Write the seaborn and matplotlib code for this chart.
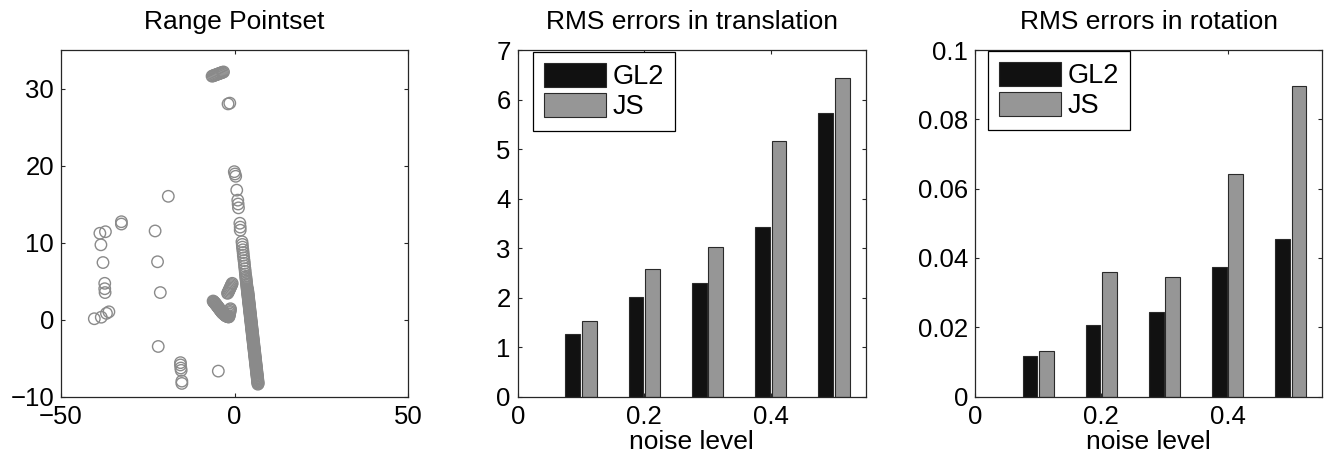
import numpy as np
import pandas as pd
import matplotlib
matplotlib.use("Agg")
import matplotlib.pyplot as plt
import seaborn as sns

# ---------------- data ----------------
# Range pointset (left panel)
pts_x = [
    # top cluster
    -6.5, -6.2, -5.9, -5.6, -5.3, -5.0, -4.7, -4.4, -4.1, -3.8, -3.5, -3.2,
    -1.9, -1.4,
    # upper column
    -0.1, 0.1, 0.3, 0.6, 0.9, 1.0, 1.1, 1.5, 1.6, 1.6,
    2.1, 2.2, 2.25, 2.35, 2.45, 2.5, 2.6, 2.7, 2.8, 2.85, 2.95, 3.05, 3.1,
    # dense column
    3.2, 3.25, 3.3, 3.35, 3.4, 3.45, 3.5, 3.55, 3.6, 3.65, 3.7, 3.75, 3.8, 3.85,
    3.9, 3.95, 4.0, 4.05, 4.1, 4.15, 4.2, 4.25, 4.3, 4.35, 4.4, 4.45, 4.5, 4.55,
    4.6, 4.65, 4.7, 4.75, 4.8, 4.85, 4.9, 4.95, 5.0, 5.05, 5.1, 5.15, 5.2, 5.25,
    5.3, 5.35, 5.4, 5.45, 5.5, 5.55, 5.6, 5.65, 5.7, 5.75, 5.8, 5.85, 5.9, 5.95,
    6.0, 6.05, 6.1, 6.15, 6.2, 6.25, 6.3, 6.35, 6.4, 6.45, 6.5, 6.55, 6.6, 6.65, 6.7,
    3.73, 3.78, 3.83, 3.88, 3.93, 3.98, 4.03, 4.08, 4.13, 4.18, 4.23, 4.28, 4.33,
    4.38, 4.43, 4.48, 4.53, 4.58, 4.63, 4.68, 4.73, 4.78, 4.83, 4.88, 4.93, 4.98,
    5.03, 5.08, 5.13, 5.18, 5.23, 5.28, 5.33, 5.38, 5.43, 5.48, 5.53, 5.58, 5.63,
    5.68, 5.73, 5.78, 5.83, 5.88, 5.93, 5.98, 6.03, 6.08, 6.13, 6.18, 6.23, 6.28,
    6.33, 6.38, 6.43, 6.48, 6.53, 6.58, 6.63, 6.68, 6.73, 6.78,
    # blob near (-1.5, 4)
    -0.7, -0.85, -1.0, -1.15, -1.3, -1.45, -1.6, -1.75, -1.9, -2.05,
    # L-shaped cluster
    -6.2, -5.9, -5.6, -5.35, -5.1, -4.85, -4.6, -4.35, -4.1, -3.85, -3.6, -3.35,
    -3.1, -2.85, -2.6, -2.35, -2.1, -1.85, -1.65,
    -6.05, -5.75, -5.5, -5.2, -4.95, -4.7, -4.45, -4.2, -3.95, -3.7, -3.45, -3.2,
    -2.95, -2.7, -2.45, -2.2, -1.95, -1.75,
    -1.55, -1.45, -1.4, -1.3, -1.25, -1.2,
    # isolated points, left side
    -19.1, -32.6, -32.6, -38.8, -37.2, -38.5, -37.9, -37.4, -37.4, -37.3,
    -40.4, -38.4, -36.9, -36.2,
    -22.9, -22.2, -21.4, -22.0,
    -15.6, -15.6, -15.5, -15.4, -15.2, -15.2,
    -4.7,
]
pts_y = [
    31.6, 31.65, 31.7, 31.75, 31.8, 31.85, 31.9, 31.95, 32.0, 32.05, 32.1, 32.15,
    28.0, 28.1,
    19.2, 18.9, 18.6, 16.8, 15.5, 15.0, 14.5, 12.5, 12.0, 11.6,
    10.1, 9.75, 9.4, 9.05, 8.7, 8.35, 8.0, 7.65, 7.3, 6.95, 6.6, 6.25, 5.9,
    5.6, 5.4, 5.2, 5.0, 4.8, 4.6, 4.4, 4.2, 4.0, 3.8, 3.6, 3.4, 3.2, 3.0,
    2.8, 2.6, 2.4, 2.2, 2.0, 1.8, 1.6, 1.4, 1.2, 1.0, 0.8, 0.6, 0.4, 0.2,
    0.0, -0.2, -0.4, -0.6, -0.8, -1.0, -1.2, -1.4, -1.6, -1.8, -2.0, -2.2, -2.4, -2.6,
    -2.8, -3.0, -3.2, -3.4, -3.6, -3.8, -4.0, -4.2, -4.4, -4.6, -4.8, -5.0, -5.2, -5.4,
    -5.6, -5.8, -6.0, -6.2, -6.4, -6.6, -6.8, -7.0, -7.2, -7.4, -7.6, -7.8, -8.0, -8.2, -8.4,
    3.9, 3.7, 3.5, 3.3, 3.1, 2.9, 2.7, 2.5, 2.3, 2.1, 1.9, 1.7, 1.5,
    1.3, 1.1, 0.9, 0.7, 0.5, 0.3, 0.1, -0.1, -0.3, -0.5, -0.7, -0.9, -1.1,
    -1.3, -1.5, -1.7, -1.9, -2.1, -2.3, -2.5, -2.7, -2.9, -3.1, -3.3, -3.5, -3.7,
    -3.9, -4.1, -4.3, -4.5, -4.7, -4.9, -5.1, -5.3, -5.5, -5.7, -5.9, -6.1, -6.3,
    -6.5, -6.7, -6.9, -7.1, -7.3, -7.5, -7.7, -7.9, -8.1, -8.3,
    4.7, 4.55, 4.4, 4.25, 4.1, 3.95, 3.8, 3.65, 3.5, 3.4,
    2.4, 2.25, 2.1, 1.95, 1.8, 1.65, 1.5, 1.35, 1.2, 1.05, 0.9, 0.8,
    0.7, 0.6, 0.5, 0.45, 0.4, 0.35, 0.35,
    2.32, 2.17, 2.02, 1.87, 1.72, 1.57, 1.42, 1.27, 1.12, 0.97, 0.85, 0.75,
    0.65, 0.55, 0.47, 0.42, 0.37, 0.35,
    0.5, 0.7, 0.9, 1.05, 1.25, 1.4,
    16.0, 12.7, 12.4, 11.2, 11.4, 9.7, 7.4, 4.7, 4.0, 3.5,
    0.1, 0.3, 0.8, 1.0,
    11.5, 7.5, 3.5, -3.5,
    -5.6, -5.9, -6.3, -6.6, -8.0, -8.3,
    -6.7,
]

noise_levels = [0.1, 0.2, 0.3, 0.4, 0.5]
methods = ["GL2", "JS"]
trans_gl2 = [1.26, 2.02, 2.30, 3.43, 5.73]
trans_js = [1.53, 2.585, 3.02, 5.17, 6.435]
rot_gl2 = [0.0118, 0.0207, 0.0244, 0.0375, 0.0455]
rot_js = [0.0130, 0.0359, 0.0345, 0.0642, 0.0896]

# ---------------- style ----------------
sns.set_theme(style="white")
plt.rcParams["font.family"] = ["Liberation Sans", "DejaVu Sans"]
plt.rcParams.update({
    "text.color": "black", "axes.labelcolor": "black", "axes.titlecolor": "black",
    "xtick.direction": "in", "ytick.direction": "in",
    "xtick.top": True, "ytick.right": True,
    "xtick.bottom": True, "ytick.left": True,
    "xtick.major.size": 3, "ytick.major.size": 3,
    "xtick.major.width": 0.8, "ytick.major.width": 0.8,
    "xtick.color": "#262626", "ytick.color": "#262626",
    "xtick.labelcolor": "black", "ytick.labelcolor": "black",
    "xtick.labelsize": 18.5, "ytick.labelsize": 18.5,
    "xtick.major.pad": 6, "ytick.major.pad": 5,
    "axes.edgecolor": "#262626", "axes.linewidth": 0.9,
    "axes.titlesize": 19, "axes.labelsize": 19,
    "axes.titlepad": 15,
})

fig = plt.figure(figsize=(13.34, 4.66), dpi=100)
ax1 = fig.add_axes([0.0457, 0.1491, 0.2604, 0.7436])
ax2 = fig.add_axes([0.3881, 0.1491, 0.2609, 0.7436])
ax3 = fig.add_axes([0.7309, 0.1491, 0.2603, 0.7436])

# ---------------- left: scatter ----------------
sns.scatterplot(x=pts_x, y=pts_y, ax=ax1, s=68, color="#8a8a8a", linewidth=1.0)
coll = ax1.collections[0]
coll.set_facecolor("none")
coll.set_edgecolor("#8a8a8a")
ax1.set_xlim(-50, 50)
ax1.set_ylim(-10, 35)
ax1.set_xticks([-50, 0, 50])
ax1.set_yticks([-10, 0, 10, 20, 30])
ax1.set_title("Range Pointset")
ax1.set_xlabel("")
ax1.set_ylabel("")

# ---------------- bars ----------------
palette = {"GL2": "#111111", "JS": "#969696"}


def bar_panel(ax, gl2, js, title, ylim, yticks, yticklabels, anchor):
    df = pd.DataFrame({
        "noise": noise_levels * 2,
        "err": list(gl2) + list(js),
        "method": [methods[0]] * len(gl2) + [methods[1]] * len(js),
    })
    sns.barplot(data=df, x="noise", y="err", hue="method", hue_order=methods,
                palette=palette, native_scale=True, width=0.52, gap=0.1,
                edgecolor="#2a2a2a", linewidth=0.8, errorbar=None, ax=ax)
    ax.set_xlim(0, 0.55)
    ax.set_ylim(*ylim)
    ax.set_xticks([0, 0.2, 0.4])
    ax.set_xticklabels(["0", "0.2", "0.4"])
    ax.set_yticks(yticks)
    ax.set_yticklabels(yticklabels)
    ax.set_title(title)
    ax.set_xlabel("noise level", labelpad=1)
    ax.set_ylabel("")
    old = ax.get_legend()
    handles = old.legend_handles
    labels = [t.get_text() for t in old.get_texts()]
    old.remove()
    for h in handles:
        h.set_edgecolor("#2a2a2a")
        h.set_linewidth(0.8)
    leg = ax.legend(handles, labels, loc="upper left", bbox_to_anchor=anchor,
                    borderaxespad=0, frameon=True, fancybox=False,
                    edgecolor="black", framealpha=1, fontsize=19.5,
                    handlelength=2.3, handleheight=1.0, labelspacing=0.1,
                    handletextpad=0.25, borderpad=0.4)
    leg.get_frame().set_linewidth(0.9)


bar_panel(ax2, trans_gl2, trans_js, "RMS errors in translation", (0, 7),
          [0, 1, 2, 3, 4, 5, 6, 7], ["0", "1", "2", "3", "4", "5", "6", "7"],
          (0.044, 0.995))
bar_panel(ax3, rot_gl2, rot_js, "RMS errors in rotation", (0, 0.1),
          [0, 0.02, 0.04, 0.06, 0.08, 0.1],
          ["0", "0.02", "0.04", "0.06", "0.08", "0.1"],
          (0.037, 0.997))

for ax in (ax1, ax2, ax3):
    for sp in ax.spines.values():
        sp.set_visible(True)
        sp.set_color("#262626")
        sp.set_linewidth(0.9)
    ax.tick_params(which="both", direction="in", top=True, right=True)

fig.savefig("out.png", dpi=100)
